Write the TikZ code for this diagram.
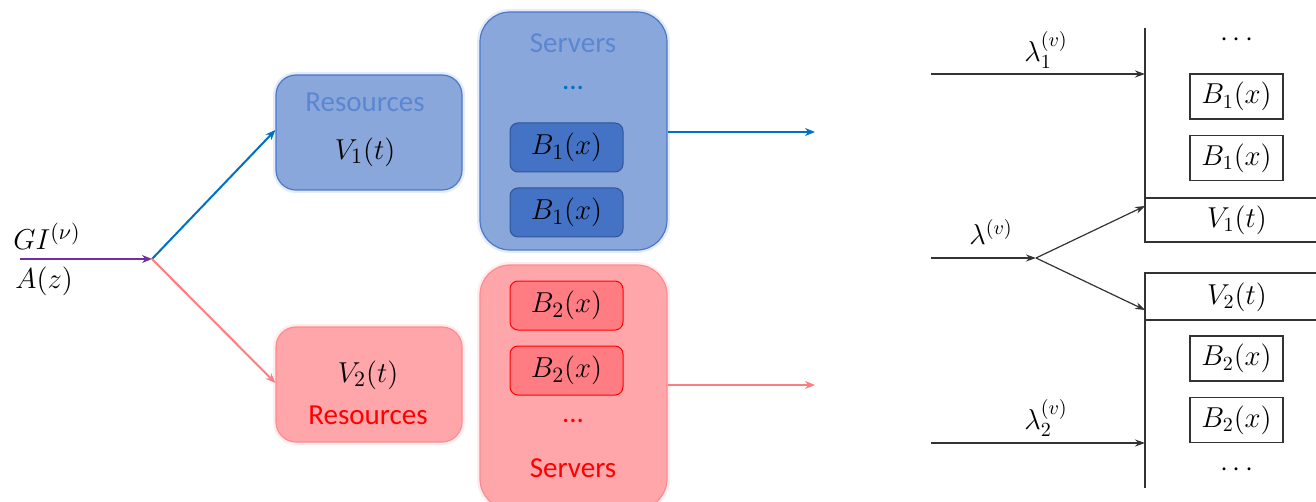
\documentclass[tikz,border=0pt]{standalone}
\usepackage{fontspec}
\setmainfont{Carlito}
\usetikzlibrary{arrows.meta}
\definecolor{bfill}{HTML}{8AA7DB}
\definecolor{bdraw}{HTML}{4A78C8}
\definecolor{bglow}{HTML}{B4C7EA}
\definecolor{btext}{HTML}{5A86D2}
\definecolor{bdark}{HTML}{4472C4}
\definecolor{bdarkdraw}{HTML}{2F5597}
\definecolor{barrow}{HTML}{0070C0}
\definecolor{rfill}{HTML}{FFA6AB}
\definecolor{rdraw}{HTML}{FF8A8F}
\definecolor{rglow}{HTML}{FFC9CC}
\definecolor{rdark}{HTML}{FF7C82}
\definecolor{rtext}{HTML}{FF0000}
\definecolor{rarrow}{HTML}{FF7C80}
\definecolor{parrow}{HTML}{7030A0}
\definecolor{gline}{HTML}{333333}
\begin{document}
\begin{tikzpicture}[x=0.5pt,y=-0.5pt,
  every node/.style={inner sep=0pt},
  bbox/.style={rectangle, fill=bfill, draw=bdraw, line width=0.6pt,
    preaction={draw=bglow, line width=3pt, opacity=0.35}},
  rbox/.style={rectangle, fill=rfill, draw=rdraw, line width=0.6pt,
    preaction={draw=rglow, line width=3pt, opacity=0.35}},
  resbox/.style={minimum width=93pt, minimum height=57.5pt, rounded corners=10pt},
  srvbox/.style={minimum width=93.5pt, minimum height=119pt, rounded corners=15pt},
  bsmall/.style={rectangle, rounded corners=4pt, minimum width=56.5pt, minimum height=24.5pt, line width=0.5pt},
  mtext/.style={font=\fontsize{15.5}{18}\selectfont},
  wtext/.style={font=\fontsize{14.5}{17}\selectfont},
  cmtext/.style={font=\fontsize{14}{17}\selectfont},
  garrow/.style={draw=gline, line width=0.9pt, -{Stealth[length=5pt,width=3.5pt]}},
  gline/.style={draw=gline, line width=1pt},
  gbox/.style={rectangle, draw=gline, line width=0.9pt, minimum width=46.5pt, minimum height=22.5pt, cmtext}
]
\useasboundingbox (0,0) rectangle (1316,502);

% ---------- left diagram ----------
\coordinate (in) at (20,259);
\coordinate (J) at (152,259);

\node[bbox, resbox] (res1) at (369,132.5) {};
\node[bbox, srvbox] (srv1) at (573.5,131) {};
\node[rbox, resbox] (res2) at (369,384.5) {};
\node[rbox, srvbox, minimum height=122pt] (srv2) at (573.5,387) {};

\node[wtext, text=btext] (res1t) at (365,102) {Resources};
\node[mtext] (v1) at (365,152) {$V_1(t)$};
\node[wtext, text=btext] (srv1t) at (573,43) {Servers};
\node[wtext, text=barrow] (srv1d) at (573,88) {...};
\node[bsmall, fill=bdark, draw=bdarkdraw] (b11) at (566.5,147.5) {};
\node[mtext] at (b11) {$B_1(x)$};
\node[bsmall, fill=bdark, draw=bdarkdraw] (b12) at (566.5,212.5) {};
\node[mtext] at (b12) {$B_1(x)$};

\node[mtext] (v2) at (368,375) {$V_2(t)$};
\node[wtext, text=rtext] (res2t) at (368,415) {Resources};
\node[bsmall, fill=rdark, draw=rtext] (b21) at (566.5,305.5) {};
\node[mtext] at (b21) {$B_2(x)$};
\node[bsmall, fill=rdark, draw=rtext] (b22) at (566.5,370.5) {};
\node[mtext] at (b22) {$B_2(x)$};
\node[wtext, text=rtext] (srv2d) at (573,421) {...};
\node[wtext, text=rtext] (srv2t) at (573,468) {Servers};

\node[mtext, anchor=south west] (gi) at (13,250) {$GI^{(\nu)}$};
\node[mtext, anchor=north west] (az) at (15,266) {$A(z)$};

\draw[parrow, line width=1.3pt, -{Stealth[length=5pt,width=4pt]}] (in) -- (J);
\draw[barrow, line width=1pt, -{Stealth[length=5pt,width=4pt]}] (J) -- (res1.west |- 0,130);
\draw[rarrow, line width=1pt, -{Stealth[length=5pt,width=4pt]}] (J) -- (res2.west |- 0,383);
\coordinate (o1) at (815,132);
\coordinate (o2) at (815,385);
\draw[barrow, line width=1pt, -{Stealth[length=5pt,width=4pt]}] (srv1.east |- o1) -- (o1);
\draw[rarrow, line width=0.8pt, -{Stealth[length=5pt,width=4pt]}] (srv2.east |- o2) -- (o2);

% ---------- right diagram ----------
\coordinate (t1) at (1145,28);
\coordinate (t2) at (1145,242);
\coordinate (h1) at (1316,198);
\coordinate (h2) at (1316,242);
\coordinate (u1) at (1145,273);
\coordinate (u2) at (1145,488);
\coordinate (k1) at (1316,273);
\coordinate (k2) at (1316,320);
\draw[gline] (t1) -- (t2) -- (h2);
\draw[gline] (t1 |- h1) -- (h1);
\draw[gline] (k1) -- (u1) -- (u2);
\draw[gline] (u1 |- k2) -- (k2);

\node[cmtext] (v1r) at (1237,220) {$V_1(t)$};
\node[cmtext] (v2r) at (1237,297) {$V_2(t)$};
\node[cmtext] (dtop) at (1237,40) {$\cdots$};
\node[cmtext] (dbot) at (1237,470) {$\cdots$};
\node[gbox] (rb11) at (1236.5,96.5) {$B_1(x)$};
\node[gbox] (rb12) at (1236.5,158) {$B_1(x)$};
\node[gbox] (rb21) at (1236.5,358.5) {$B_2(x)$};
\node[gbox] (rb22) at (1236.5,420) {$B_2(x)$};

\coordinate (l1s) at (931,74);
\coordinate (l1e) at (1145,74);
\coordinate (l2s) at (931,443);
\coordinate (l2e) at (1145,443);
\coordinate (ls) at (931,258);
\coordinate (lj) at (1036,258);
\coordinate (la) at (1145,206);
\coordinate (lb) at (1145,310);
\draw[garrow] (l1s) -- (l1e);
\draw[garrow] (l2s) -- (l2e);
\draw[garrow] (ls) -- (lj);
\draw[garrow, line width=0.6pt] (lj) -- (la);
\draw[garrow, line width=0.6pt] (lj) -- (lb);

\node[cmtext] (lam1) at (1046,50) {$\lambda_1^{(v)}$};
\node[cmtext] (lam) at (991,232) {$\lambda^{(v)}$};
\node[cmtext] (lam2) at (1046,418) {$\lambda_2^{(v)}$};
\end{tikzpicture}
\end{document}
